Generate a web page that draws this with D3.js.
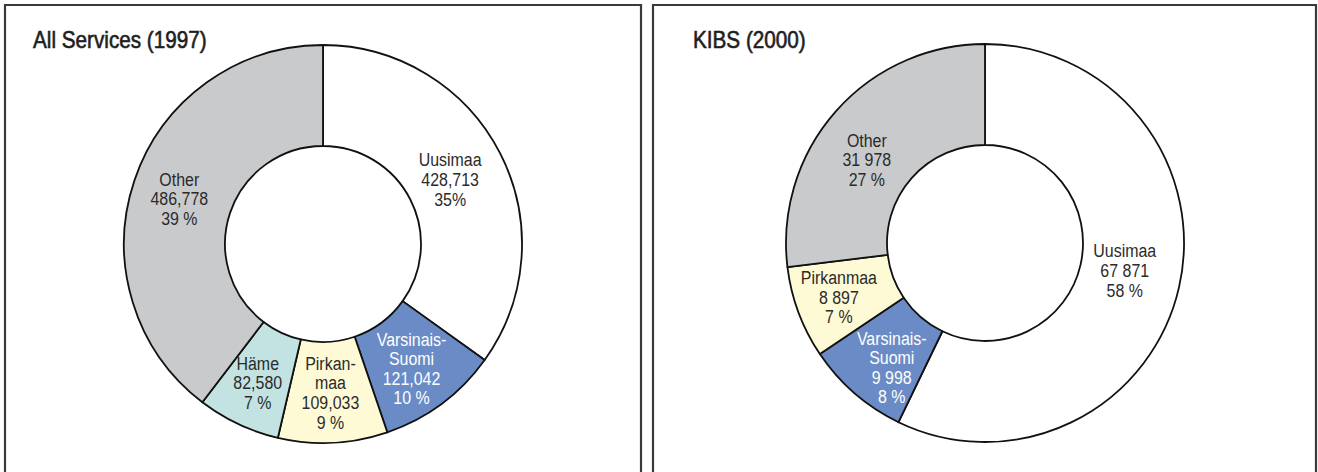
<!DOCTYPE html>
<html>
<head>
<meta charset="utf-8">
<script src="https://cdn.jsdelivr.net/npm/d3@7"></script>
<style>
  html, body { margin: 0; padding: 0; background: #fff; }
  svg { display: block; }
  text { font-family: "Liberation Sans", Arial, sans-serif; }
</style>
</head>
<body>
<svg id="chart" width="1318" height="472"></svg>
<script>
// Employment by region: all services (1997) and knowledge-intensive business services (2000)
const servicesTitle = "All Services (1997)";
const servicesRegions = ["Uusimaa", "Varsinais-Suomi", "Pirkanmaa", "Häme", "Other"];
const servicesValues = [428713, 121042, 109033, 82580, 486778];
const servicesLabels = [
  ["Uusimaa", "428,713", "35%"],
  ["Varsinais-", "Suomi", "121,042", "10 %"],
  ["Pirkan-", "maa", "109,033", "9 %"],
  ["Häme", "82,580", "7 %"],
  ["Other", "486,778", "39 %"]
];

const kibsTitle = "KIBS (2000)";
const kibsRegions = ["Uusimaa", "Varsinais-Suomi", "Pirkanmaa", "Other"];
const kibsValues = [67871, 9998, 8897, 31978];
const kibsLabels = [
  ["Uusimaa", "67 871", "58 %"],
  ["Varsinais-", "Suomi", "9 998", "8 %"],
  ["Pirkanmaa", "8 897", "7 %"],
  ["Other", "31 978", "27 %"]
];

// region fill colours
const regionColor = d3.scaleOrdinal()
  .domain(["Uusimaa", "Varsinais-Suomi", "Pirkanmaa", "Häme", "Other"])
  .range(["#ffffff", "#6a8bc6", "#fefad6", "#c2e3e1", "#c9cacc"]);
const labelColor = name => name === "Varsinais-Suomi" ? "#ffffff" : "#2b2b2b";

// narrow the glyphs horizontally to get a condensed face
const condense = 0.84;

const svg = d3.select("#chart");

const panels = [
  { x0: 5, x1: 641, titleX: 33, cx: 323, cy: 244, title: servicesTitle, regions: servicesRegions, values: servicesValues, labels: servicesLabels,
    nudge: [[-5, 3], [0, 5], [0, 0], [-2, 4], [-3, 2]] },
  { x0: 653, x1: 1316, titleX: 693, cx: 985, cy: 243, title: kibsTitle, regions: kibsRegions, values: kibsValues, labels: kibsLabels,
    nudge: [[-5, -6], [4, 12], [-7, 2], [-7, 15]] }
];

const outerR = 199, innerR = 98;
const arc = d3.arc().innerRadius(innerR).outerRadius(outerR);
const pie = d3.pie().sort(null).value(d => d.value);

panels.forEach(p => {
  // frame, open at the bottom edge of the page
  svg.append("path")
    .attr("d", `M${p.x0},480 L${p.x0},5 L${p.x1},5 L${p.x1},480`)
    .attr("fill", "none")
    .attr("stroke", "#3a3a3a")
    .attr("stroke-width", 2.2);

  svg.append("text")
    .attr("transform", `translate(${p.titleX},48) scale(0.9,1)`)
    .attr("font-size", 23)
    .attr("font-weight", 400)
    .attr("fill", "#1e1e1e")
    .attr("stroke", "#1e1e1e")
    .attr("stroke-width", 0.6)
    .text(p.title);

  const data = p.regions.map((r, i) => ({ region: r, value: p.values[i], label: p.labels[i], nudge: p.nudge[i] }));
  const arcs = pie(data);
  const g = svg.append("g").attr("transform", `translate(${p.cx},${p.cy})`);

  g.selectAll("path.slice")
    .data(arcs)
    .join("path")
    .attr("class", "slice")
    .attr("d", arc)
    .attr("fill", d => regionColor(d.data.region))
    .attr("stroke", "#111")
    .attr("stroke-width", 1.8)
    .attr("stroke-linejoin", "round");

  const lineH = 19.6;
  g.selectAll("text.lbl")
    .data(arcs)
    .join("text")
    .attr("class", "lbl")
    .attr("text-anchor", "middle")
    .attr("font-size", 19)
    .attr("fill", d => labelColor(d.data.region))
    .attr("transform", d => {
      const [x, y] = arc.centroid(d);
      return `translate(${x + d.data.nudge[0]},${y + d.data.nudge[1]}) scale(${condense},1)`;
    })
    .each(function (d) {
      const lines = d.data.label;
      const top = -(lines.length - 1) * lineH / 2;
      d3.select(this).selectAll("tspan")
        .data(lines)
        .join("tspan")
        .attr("x", 0)
        .attr("y", (t, i) => top + i * lineH)
        .attr("dy", "0.36em")
        .text(t => t);
    });
});
</script>
</body>
</html>
